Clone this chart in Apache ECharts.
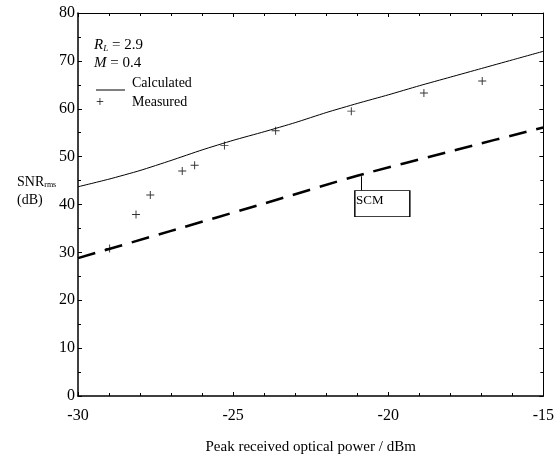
<!DOCTYPE html>
<html>
<head>
<meta charset="utf-8">
<script src="https://cdn.jsdelivr.net/npm/echarts@6/dist/echarts.min.js"></script>
<style>
  html, body { margin: 0; padding: 0; background: #fff; }
  #chart { width: 557px; height: 463px; }
</style>
</head>
<body>
<div id="chart"></div>
<script>
// calculated SNR curve (solid)
const calcPower = [-30, -29, -28, -27, -26, -25, -24, -23, -22, -21, -20, -19, -18, -17, -16, -15];
const calcSnr = [43.7, 45.3, 47.1, 49.2, 51.4, 53.4, 55.2, 57.1, 59.2, 61.1, 62.9, 64.8, 66.6, 68.4, 70.2, 72.0];

// SCM curve (dashed)
const scmPower = [-30, -27, -24, -21, -18, -15];
const scmSnr = [28.8, 34.5, 40.2, 46.0, 51.1, 56.1];

// measured points
const measPower = [-28.98, -28.13, -27.67, -26.64, -26.24, -25.28, -23.63, -21.19, -18.85, -16.97];
const measSnr = [30.8, 37.9, 42.0, 47.0, 48.2, 52.3, 55.4, 59.5, 63.3, 65.8];

// SCM label box and leader
const scmLabelAt = [-20.19, 40.2];
const scmLeader = [[-20.86, 45.9], [-20.86, 42.9]];

const zip = (xs, ys) => xs.map((x, i) => [x, ys[i]]);

const serif = '"Liberation Serif", "DejaVu Serif", serif';
const plus = 'path://M4.4,0H5.6V4.4H10V5.6H5.6V10H4.4V5.6H0V4.4H4.4Z';

const xBase = {
    type: 'value', min: -30, max: -15, interval: 5,
    splitLine: { show: false },
    axisTick: { show: true, inside: true, length: 4, lineStyle: { color: '#000' } },
    minorTick: { show: true, splitNumber: 5, length: 3, lineStyle: { color: '#000' } },
};
const yBase = {
    type: 'value', min: 0, max: 80, interval: 10,
    splitLine: { show: false },
    axisTick: { show: true, inside: true, length: 4, lineStyle: { color: '#000' } },
    minorTick: { show: true, splitNumber: 2, length: 3, lineStyle: { color: '#000' } },
};

const option = {
    animation: false,
    backgroundColor: '#fff',
    grid: { left: 78, right: 8, top: 13, bottom: 67, containLabel: false },
    xAxis: [
        Object.assign({}, xBase, {
            position: 'bottom',
            axisLine: { onZero: false, lineStyle: { color: '#000', width: 1.5 } },
            axisLabel: { color: '#000', fontFamily: serif, fontSize: 16, margin: 12 },
            name: 'Peak received optical power / dBm',
            nameLocation: 'middle',
            nameGap: 44,
            nameTextStyle: { color: '#000', fontFamily: serif, fontSize: 15 },
        }),
        Object.assign({}, xBase, {
            position: 'top',
            axisLine: { onZero: false, lineStyle: { color: '#000', width: 1 } },
            axisLabel: { show: false },
        }),
    ],
    yAxis: [
        Object.assign({}, yBase, {
            position: 'left',
            axisLine: { onZero: false, lineStyle: { color: '#000', width: 1.5 } },
            axisLabel: { color: '#000', fontFamily: serif, fontSize: 16, margin: 3 },
        }),
        Object.assign({}, yBase, {
            position: 'right',
            axisLine: { onZero: false, lineStyle: { color: '#000', width: 1 } },
            axisLabel: { show: false },
        }),
    ],
    series: [
        {
            name: 'Calculated',
            type: 'line',
            data: zip(calcPower, calcSnr),
            symbol: 'none',
            smooth: 0.2,
            lineStyle: { color: '#000', width: 1 },
        },
        {
            name: 'SCM',
            type: 'line',
            data: zip(scmPower, scmSnr),
            symbol: 'none',
            smooth: 0.2,
            lineStyle: { color: '#000', width: 2.5, type: [18, 10] },
            markLine: {
                silent: true,
                symbol: 'none',
                label: { show: false },
                lineStyle: { color: '#000', width: 1, type: 'solid' },
                data: [[{ coord: scmLeader[0] }, { coord: scmLeader[1] }]],
            },
            markPoint: {
                silent: true,
                data: [{ coord: scmLabelAt }],
                symbol: 'rect',
                symbolSize: [55, 26],
                itemStyle: { color: '#fff', borderColor: '#000', borderWidth: 1 },
                label: {
                    show: true,
                    formatter: 'SCM',
                    position: [2, 4],
                    color: '#000',
                    fontFamily: serif,
                    fontSize: 13,
                },
            },
        },
        {
            name: 'Measured',
            type: 'scatter',
            data: zip(measPower, measSnr),
            symbol: plus,
            symbolSize: 8,
            itemStyle: { color: '#000' },
        },
    ],
    graphic: [
        {
            type: 'text', left: 94, top: 38,
            style: {
                text: '{i|R}{s|L} = 2.9',
                fill: '#000', font: '15px ' + serif,
                rich: {
                    i: { fontStyle: 'italic', fontFamily: serif, fontSize: 15 },
                    s: { fontStyle: 'italic', fontFamily: serif, fontSize: 9, verticalAlign: 'bottom', padding: [6, 0, 0, 0] },
                },
            },
        },
        {
            type: 'text', left: 94, top: 56,
            style: {
                text: '{i|M} = 0.4',
                fill: '#000', font: '15px ' + serif,
                rich: { i: { fontStyle: 'italic', fontFamily: serif, fontSize: 15 } },
            },
        },
        {
            type: 'line',
            shape: { x1: 96, y1: 90, x2: 125, y2: 90 },
            style: { stroke: '#000', lineWidth: 1 },
        },
        {
            type: 'text', left: 132, top: 76,
            style: { text: 'Calculated', fill: '#000', font: '14px ' + serif },
        },
        {
            type: 'text', left: 96, top: 95,
            style: { text: '+', fill: '#000', font: '14px ' + serif },
        },
        {
            type: 'text', left: 132, top: 95,
            style: { text: 'Measured', fill: '#000', font: '14px ' + serif },
        },
        {
            type: 'text', left: 17, top: 173,
            style: {
                text: 'SNR{s|rms}\n(dB)',
                fill: '#000', font: '14px ' + serif, lineHeight: 18,
                rich: { s: { fontFamily: serif, fontSize: 8, padding: [6, 0, 0, 0] } },
            },
        },
    ],
};

const chart = echarts.init(document.getElementById('chart'));
chart.setOption(option);
</script>
</body>
</html>
